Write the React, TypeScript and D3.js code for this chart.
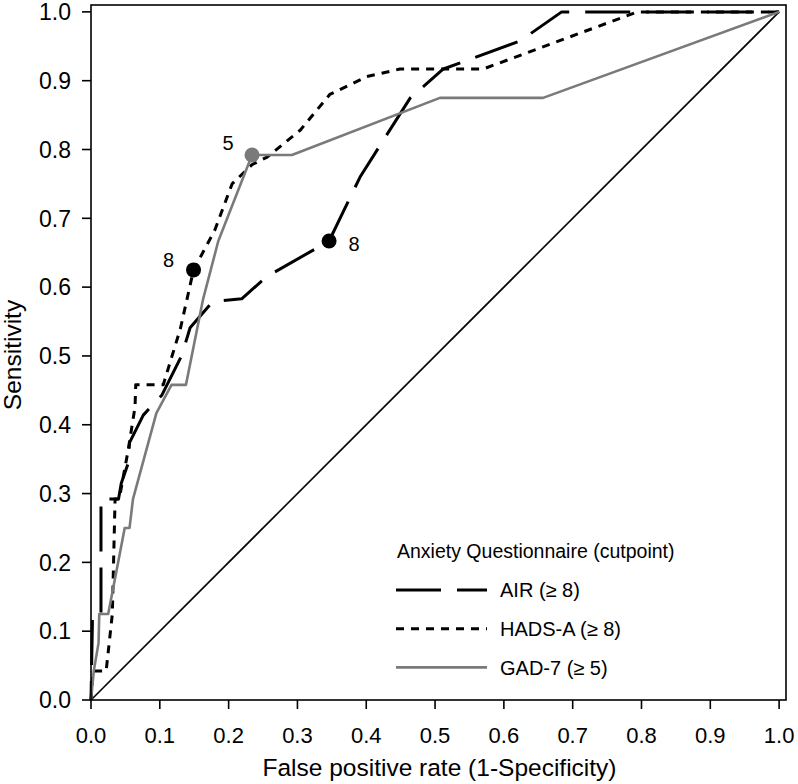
import React from "react";
import * as d3 from "d3";

// ROC curve data (false positive rate, sensitivity)
const airFpr = [0, 0.002, 0.002, 0.0145, 0.0145, 0.04, 0.044, 0.054, 0.056, 0.076, 0.087, 0.103, 0.132, 0.144, 0.177, 0.219, 0.255, 0.346, 0.391, 0.427, 0.464, 0.512, 0.624, 0.684, 1.0];
const airSens = [0, 0.11, 0.125, 0.125, 0.292, 0.292, 0.315, 0.344, 0.374, 0.414, 0.426, 0.443, 0.501, 0.541, 0.579, 0.583, 0.615, 0.667, 0.76, 0.817, 0.875, 0.917, 0.958, 1.0, 1.0];

const hadsFpr = [0, 0.003, 0.022, 0.031, 0.035, 0.041, 0.054, 0.064, 0.065, 0.105, 0.13, 0.149, 0.18, 0.205, 0.234, 0.256, 0.304, 0.347, 0.401, 0.449, 0.57, 0.794, 1.0];
const hadsSens = [0, 0.042, 0.042, 0.125, 0.292, 0.292, 0.363, 0.426, 0.458, 0.458, 0.54, 0.625, 0.683, 0.75, 0.778, 0.789, 0.828, 0.88, 0.906, 0.917, 0.917, 1.0, 1.0];

const gadFpr = [0, 0.004, 0.011, 0.012, 0.025, 0.049, 0.056, 0.061, 0.095, 0.117, 0.138, 0.163, 0.185, 0.234, 0.292, 0.507, 0.657, 1.0];
const gadSens = [0, 0.042, 0.083, 0.125, 0.125, 0.25, 0.25, 0.292, 0.417, 0.458, 0.458, 0.583, 0.667, 0.792, 0.792, 0.875, 0.875, 1.0];

// Cutpoint markers
const cutSeries = ["AIR", "HADS-A", "GAD-7"];
const cutFpr = [0.346, 0.149, 0.234];
const cutSens = [0.667, 0.625, 0.792];
const cutLabels = ["8", "8", "5"];

const tickValues = [0, 0.1, 0.2, 0.3, 0.4, 0.5, 0.6, 0.7, 0.8, 0.9, 1.0];
const tickLabels = ["0.0", "0.1", "0.2", "0.3", "0.4", "0.5", "0.6", "0.7", "0.8", "0.9", "1.0"];

const legendTitle = "Anxiety Questionnaire (cutpoint)";
const legendLabels = ["AIR (\u2265 8)", "HADS-A (\u2265 8)", "GAD-7 (\u2265 5)"];

const GREY = "#7a7a7a";
const FONT = "'Liberation Sans', Arial, Helvetica, sans-serif";

export default function App() {
  const left = 91, right = 786, top = 5, bottom = 700;
  const x = d3.scaleLinear().domain([0, 1.01]).range([left, right]);
  const y = d3.scaleLinear().domain([0, 1.01]).range([bottom, top]);
  const line = d3.line<[number, number]>().x(d => x(d[0])).y(d => y(d[1]));

  const zip = (a: number[], b: number[]) => a.map((v, i) => [v, b[i]] as [number, number]);

  const styles = [
    { stroke: "#000", dash: "45,16", width: 3, offset: 26 },
    { stroke: "#000", dash: "8,7", width: 3, offset: 0 },
    { stroke: GREY, dash: undefined, width: 2.6, offset: 0 },
  ];
  const series = [zip(airFpr, airSens), zip(hadsFpr, hadsSens), zip(gadFpr, gadSens)];
  const markerColors = ["#000", "#000", GREY];
  const labelOffsets = [[25, 3], [-25, -10], [-24, -12]];

  return (
    <svg width={798} height={784} style={{ position: "absolute", left: 0, top: 0, background: "#fff" }} fontFamily={FONT}>
      <rect x={0} y={0} width={798} height={784} fill="#fff" />
      {/* diagonal reference */}
      <path d={line([[0, 0], [1, 1]])!} fill="none" stroke="#000" strokeWidth={1.6} />
      {series.map((s, i) => (
        <path key={i} d={line(s)!} fill="none" stroke={styles[i].stroke} strokeWidth={styles[i].width}
          strokeDasharray={styles[i].dash} strokeDashoffset={styles[i].offset} strokeLinejoin="round" />
      ))}
      {cutFpr.map((f, i) => (
        <g key={cutSeries[i]}>
          <circle cx={x(f)} cy={y(cutSens[i])} r={7.5} fill={markerColors[i]} />
          <text x={x(f) + labelOffsets[i][0]} y={y(cutSens[i]) + labelOffsets[i][1]} fontSize={20}
            textAnchor="middle" dominantBaseline="central">{cutLabels[i]}</text>
        </g>
      ))}
      {/* frame */}
      <rect x={left} y={top} width={right - left} height={bottom - top} fill="none" stroke="#000" strokeWidth={1.6} />
      {/* x axis */}
      {tickValues.map((t, i) => (
        <g key={"x" + i}>
          <line x1={x(t)} x2={x(t)} y1={bottom} y2={bottom + 9} stroke="#000" strokeWidth={1.6} />
          <text x={x(t)} y={743} fontSize={22} textAnchor="middle">{tickLabels[i]}</text>
        </g>
      ))}
      {/* y axis */}
      {tickValues.map((t, i) => (
        <g key={"y" + i}>
          <line x1={left - 9} x2={left} y1={y(t)} y2={y(t)} stroke="#000" strokeWidth={1.6} />
          <text x={71} y={y(t)} fontSize={23} textAnchor="end" dy="0.36em">{tickLabels[i]}</text>
        </g>
      ))}
      <text x={(left + right) / 2 + 1} y={776} fontSize={24.5} textAnchor="middle">False positive rate (1-Specificity)</text>
      <text transform={`translate(21, 355) rotate(-90)`} fontSize={24.5} textAnchor="middle">Sensitivity</text>
      {/* legend */}
      <text x={397} y={551} fontSize={19.5} dy="0.36em">{legendTitle}</text>
      {legendLabels.map((lab, i) => (
        <g key={lab}>
          <line x1={396} x2={487} y1={590 + i * 38.7} y2={590 + i * 38.7} stroke={styles[i].stroke}
            strokeWidth={styles[i].width} strokeDasharray={styles[i].dash} />
          <text x={500} y={590 + i * 38.7} fontSize={20} dy="0.36em">{lab}</text>
        </g>
      ))}
    </svg>
  );
}
